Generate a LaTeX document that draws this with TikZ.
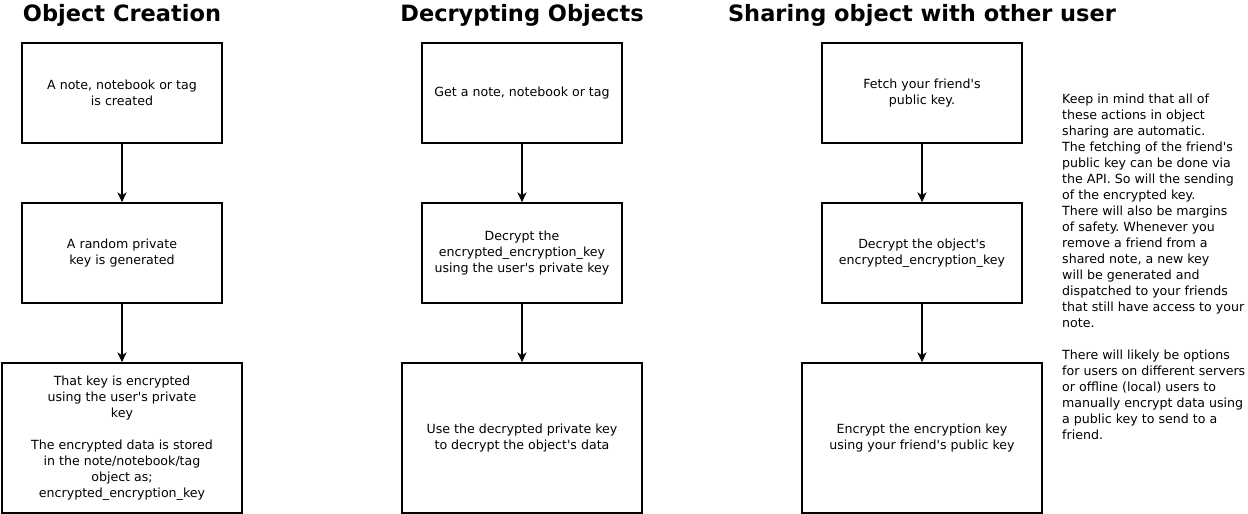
\documentclass[tikz,border=0pt]{standalone}
\usepackage{fontspec}
\setmainfont{DejaVu Sans}[Ligatures=TeXOff]
\usetikzlibrary{arrows.meta}
\frenchspacing

\begin{document}
\begin{tikzpicture}[
    x=1pt, y=-1pt,
    box/.style={rectangle, draw, line width=1.4pt, minimum width=200pt, minimum height=100pt,
        align=center, inner sep=0pt, font=\fontsize{12.6}{16}\selectfont},
    bigbox/.style={box, minimum width=240pt, minimum height=150pt},
    title/.style={font=\fontsize{22.5}{26}\bfseries\selectfont},
    note/.style={align=left, anchor=west, inner sep=0pt, font=\fontsize{12.6}{16}\selectfont},
    arrow/.style={-{Stealth[length=10pt, width=9pt, inset=3pt]}, line width=1.3pt}
]
\useasboundingbox (0,0) rectangle (1248,514);

% Column titles
\node[title] (t_create) at (122, 15) {Object Creation};
\node[title] (t_decrypt) at (522, 15) {Decrypting Objects};
\node[title] (t_share) at (922, 15) {Sharing object with other user};

% Object creation
\node[box] (create1) at (122, 93) {A note, notebook or tag\\is created};
\node[box] (create2) at (122, 253) {A random private\\key is generated};
\node[bigbox] (create3) at (122, 438) {That key is encrypted\\using the user's private\\key\\[16pt]The encrypted data is stored\\in the note/notebook/tag\\object as;\\encrypted\_encryption\_key};

% Decrypting objects
\node[box] (dec1) at (522, 93) {Get a note, notebook or tag};
\node[box] (dec2) at (522, 253) {Decrypt the\\encrypted\_encryption\_key\\using the user's private key};
\node[bigbox] (dec3) at (522, 438) {Use the decrypted private key\\to decrypt the object's data};

% Sharing with another user
\node[box] (share1) at (922, 93) {Fetch your friend's\\public key.};
\node[box] (share2) at (922, 253) {Decrypt the object's\\encrypted\_encryption\_key};
\node[bigbox] (share3) at (922, 438) {Encrypt the encryption key\\using your friend's public key};

% Side note
\node[note] (sidenote) at (1062, 267) {Keep in mind that all of\\these actions in object\\sharing are automatic.\\The fetching of the friend's\\public key can be done via\\the API. So will the sending\\of the encrypted key.\\There will also be margins\\of safety. Whenever you\\remove a friend from a\\shared note, a new key\\will be generated and\\dispatched to your friends\\that still have access to your\\note.\\[16pt]There will likely be options\\for users on different servers\\or offline (local) users to\\manually encrypt data using\\a public key to send to a\\friend.};

% Arrows
\draw[arrow] (create1) -- (create2);
\draw[arrow] (create2) -- (create3);
\draw[arrow] (dec1) -- (dec2);
\draw[arrow] (dec2) -- (dec3);
\draw[arrow] (share1) -- (share2);
\draw[arrow] (share2) -- (share3);

\end{tikzpicture}
\end{document}
